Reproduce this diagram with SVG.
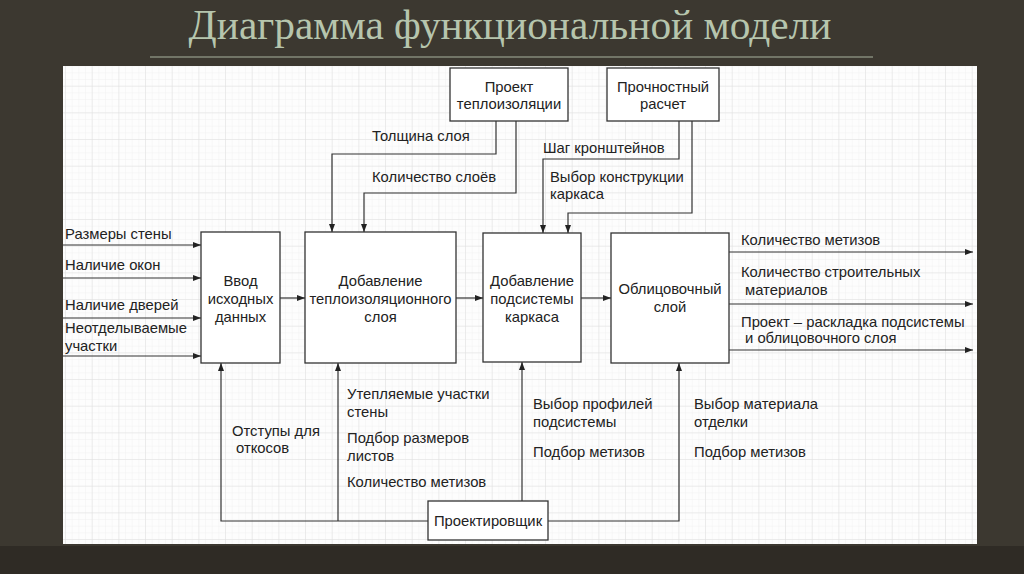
<svg xmlns="http://www.w3.org/2000/svg" width="1024" height="574" viewBox="0 0 1024 574">
<style>
.t{font-family:"Liberation Sans",Arial,sans-serif;font-size:14.8px;fill:#222}
.c{text-anchor:middle}
.box{fill:#fff;stroke:#333;stroke-width:1.3}
.ln{fill:none;stroke:#333;stroke-width:1.2}
</style>
<defs>
<marker id="ah" markerUnits="userSpaceOnUse" markerWidth="8" markerHeight="8" viewBox="0 0 8 8" refX="8" refY="4" orient="auto">
<path d="M0,1 L8,4 L0,7 Z" fill="#222"/>
</marker>
<pattern id="minor" patternUnits="userSpaceOnUse" x="66" y="60" width="6.667" height="6.667">
<path d="M6.667,0 V6.667 M0,6.667 H6.667" stroke="#f0f0f0" stroke-width="0.8" fill="none"/>
</pattern>
<pattern id="major" patternUnits="userSpaceOnUse" x="66" y="60" width="26.667" height="26.667">
<path d="M26.667,0 V26.667 M0,26.667 H26.667" stroke="#e0e0e0" stroke-width="1" fill="none"/>
</pattern>
</defs>
<rect x="0" y="0" width="1024" height="574" fill="#3c3830"/>
<rect x="0" y="546" width="1024" height="28" fill="#2f2b25"/>
<text x="510" y="39" text-anchor="middle" font-family="'Liberation Serif','DejaVu Serif',serif" font-size="42" fill="#b6c5ad" textLength="643" lengthAdjust="spacingAndGlyphs">Диаграмма функциональной модели</text>
<line x1="150" y1="57" x2="873" y2="57" stroke="#a7b29e" stroke-width="1.2"/>
<rect x="63" y="66" width="914" height="478" fill="#fdfdfd"/>
<rect x="63" y="66" width="914" height="478" fill="url(#minor)"/>
<rect x="63" y="66" width="914" height="478" fill="url(#major)"/>

<g id="connectors">
<path class="ln" d="M63,245 H201" marker-end="url(#ah)"/>
<path class="ln" d="M63,278 H201" marker-end="url(#ah)"/>
<path class="ln" d="M63,318 H201" marker-end="url(#ah)"/>
<path class="ln" d="M63,356 H201" marker-end="url(#ah)"/>
<path class="ln" d="M280,298 H305" marker-end="url(#ah)"/>
<path class="ln" d="M456,298 H483" marker-end="url(#ah)"/>
<path class="ln" d="M581,298 H611" marker-end="url(#ah)"/>
<path class="ln" d="M729,252 H973" marker-end="url(#ah)"/>
<path class="ln" d="M729,304 H973" marker-end="url(#ah)"/>
<path class="ln" d="M729,350 H973" marker-end="url(#ah)"/>
<path class="ln" d="M496,121 V154 H332 V232" marker-end="url(#ah)"/>
<path class="ln" d="M516,121 V193 H364 V232" marker-end="url(#ah)"/>
<path class="ln" d="M679,121 V159 H543 V233" marker-end="url(#ah)"/>
<path class="ln" d="M692,121 V213 H568 V233" marker-end="url(#ah)"/>
<path class="ln" d="M428,521 H221 V363" marker-end="url(#ah)"/>
<path class="ln" d="M338,521 V363" marker-end="url(#ah)"/>
<path class="ln" d="M522,501 V362" marker-end="url(#ah)"/>
<path class="ln" d="M548,521 H679 V363" marker-end="url(#ah)"/>
</g>

<g id="labels">
<text class="t" x="65" y="239">Размеры стены</text>
<text class="t" x="65" y="270">Наличие окон</text>
<text class="t" x="65" y="310">Наличие дверей</text>
<text class="t" x="65" y="333">Неотделываемые</text>
<text class="t" x="65" y="351">участки</text>
<text class="t" x="372" y="141">Толщина слоя</text>
<text class="t" x="372" y="182">Количество слоёв</text>
<text class="t" x="543" y="153">Шаг кронштейнов</text>
<text class="t" x="550" y="182">Выбор конструкции</text>
<text class="t" x="550" y="199">каркаса</text>
<text class="t" x="741" y="245">Количество метизов</text>
<text class="t" x="741" y="277">Количество строительных</text>
<text class="t" x="745" y="295">материалов</text>
<text class="t" x="741" y="327">Проект – раскладка подсистемы</text>
<text class="t" x="745" y="343">и облицовочного слоя</text>
<text class="t" x="232" y="436">Отступы для</text>
<text class="t" x="236" y="453">откосов</text>
<text class="t" x="347" y="399">Утепляемые участки</text>
<text class="t" x="347" y="417">стены</text>
<text class="t" x="347" y="443">Подбор размеров</text>
<text class="t" x="347" y="461">листов</text>
<text class="t" x="347" y="487">Количество метизов</text>
<text class="t" x="533" y="409">Выбор профилей</text>
<text class="t" x="533" y="427">подсистемы</text>
<text class="t" x="533" y="457">Подбор метизов</text>
<text class="t" x="694" y="409">Выбор материала</text>
<text class="t" x="694" y="427">отделки</text>
<text class="t" x="694" y="457">Подбор метизов</text>
</g>

<g id="node-vvod">
<rect class="box" x="201" y="232" width="79" height="131"/>
<text class="t c" x="240.5" y="286">Ввод</text>
<text class="t c" x="240.5" y="304">исходных</text>
<text class="t c" x="240.5" y="322">данных</text>
</g>
<g id="node-teplo">
<rect class="box" x="305" y="232" width="151" height="131"/>
<text class="t c" x="380.5" y="286">Добавление</text>
<text class="t c" x="380.5" y="304">теплоизоляционного</text>
<text class="t c" x="380.5" y="322">слоя</text>
</g>
<g id="node-karkas">
<rect class="box" x="483" y="233" width="98" height="129"/>
<text class="t c" x="532" y="286">Добавление</text>
<text class="t c" x="532" y="304">подсистемы</text>
<text class="t c" x="532" y="322">каркаса</text>
</g>
<g id="node-oblic">
<rect class="box" x="611" y="233" width="118" height="130"/>
<text class="t c" x="670" y="294">Облицовочный</text>
<text class="t c" x="670" y="312">слой</text>
</g>
<g id="node-proekt">
<rect class="box" x="450" y="68" width="118" height="53"/>
<text class="t c" x="509" y="92">Проект</text>
<text class="t c" x="509" y="109">теплоизоляции</text>
</g>
<g id="node-raschet">
<rect class="box" x="607" y="68" width="112" height="53"/>
<text class="t c" x="663" y="92">Прочностный</text>
<text class="t c" x="663" y="109">расчет</text>
</g>
<g id="node-proektirovshik">
<rect class="box" x="428" y="501" width="120" height="39"/>
<text class="t c" x="488" y="526">Проектировщик</text>
</g>
</svg>
